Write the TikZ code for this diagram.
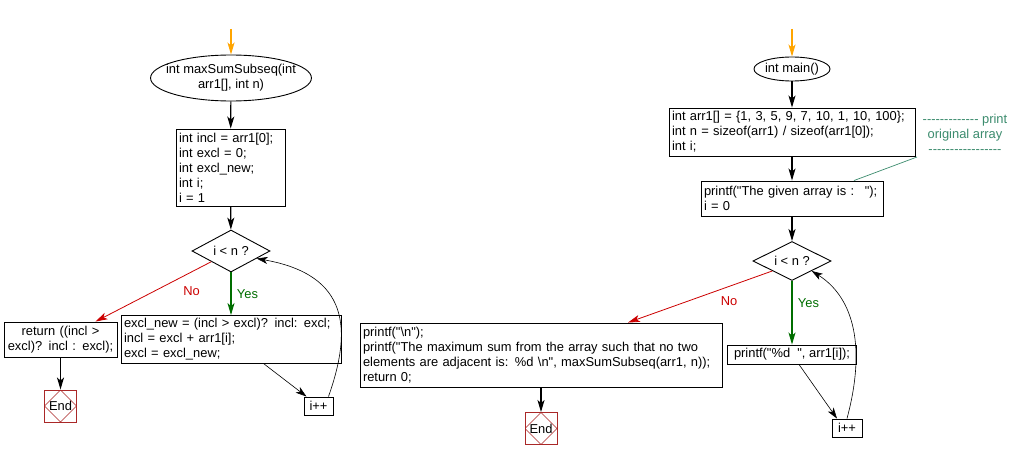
\documentclass[tikz,border=0pt]{standalone}
\usepackage{fontspec}
\setmainfont{Liberation Sans}[Ligatures=TeXOff]
\usetikzlibrary{shapes.geometric,arrows.meta,calc}
\definecolor{startorange}{RGB}{255,165,0}
\definecolor{nored}{RGB}{204,0,0}
\definecolor{yesgreen}{RGB}{0,110,0}
\definecolor{endred}{RGB}{170,40,40}
\definecolor{notegreen}{RGB}{60,140,110}
\newcommand{\dashes}[1]{\foreach \k in {1,...,#1}{-}}

\begin{document}
\begin{tikzpicture}[x=1pt, y=-1pt, font=\fontsize{12.9}{15}\selectfont]
\tikzstyle{block} = [rectangle, draw=black, line width=0.9pt, inner sep=3pt, align=left]
\tikzstyle{terminal} = [ellipse, draw=black, line width=0.9pt, inner sep=0pt, align=center]
\tikzstyle{decision} = [diamond, draw=black, line width=0.9pt, aspect=2, inner sep=0pt, minimum width=78pt, minimum height=42pt]
\tikzstyle{stop} = [rectangle, draw=endred, line width=0.9pt, minimum size=32pt, inner sep=0pt,
  path picture={\draw[endred, line width=0.6pt] (path picture bounding box.north) -- (path picture bounding box.east)
  -- (path picture bounding box.south) -- (path picture bounding box.west) -- cycle;}]
\tikzstyle{arrow} = [line width=1.2pt, -{Stealth[length=12pt, width=7pt, inset=3pt]}]
\tikzstyle{thinarrow} = [line width=0.6pt, -{Stealth[length=11pt, width=7pt, inset=3pt]}]
\tikzstyle{startarrow} = [arrow, draw=startorange]
\tikzstyle{yesarrow} = [arrow, draw=yesgreen]
\tikzstyle{noarrow} = [line width=0.8pt, draw=nored, -{Stealth[length=12pt, width=7pt, inset=3pt]}]

\fill[white] (0,0) rectangle (1013,460);
\useasboundingbox (0,0) rectangle (1013,460);

% maxSumSubseq
\coordinate (in1) at (231,29);
\node (ell1) [terminal, inner xsep=-8pt, minimum width=155pt, minimum height=46pt] at (231,78) {int maxSumSubseq(int\\arr1[], int n)};
\node (box1) [block, minimum width=109pt, minimum height=77pt, text width=103pt] at (230.5,167.5) {int incl = arr1[0];\\int excl = 0;\\int excl\_new;\\int i;\\i = 1};
\node (dia1) [decision] at (231,251) {i < n ?};
\node (box2) [block, minimum width=220pt, minimum height=47pt, text width=214pt] at (231,339.5) {excl\_new = (incl > excl)? incl: excl;\\incl = excl + arr1[i];\\excl = excl\_new;};
\node (box3) [block, align=center, minimum width=113pt, minimum height=35pt, text width=109pt, inner sep=2pt] at (60.5,339.5) {return ((incl >\\excl)? incl : excl);};
\node (end1) [stop] at (60.5,406) {End};
\node (inc1) [block, align=center, minimum width=29pt, minimum height=18pt, inner sep=1pt] at (318.5,406) {i++};

\draw [startarrow] (in1) -- (ell1);
\draw [arrow] (ell1) -- (box1);
\draw [arrow] (box1) -- (dia1);
\draw [yesarrow] (dia1) -- node[right, text=yesgreen, xshift=2pt] {Yes} (box2);
\draw [noarrow] (dia1.south west) -- node[pos=0.3, anchor=north west, text=nored, xshift=3pt, yshift=-3pt] {No} ([xshift=35pt]box3.north);
\draw [arrow] (box3) -- (end1);
\draw [thinarrow] ([xshift=33pt]box2.south) -- ([xshift=-12pt]inc1.north);
\draw [thinarrow] ([xshift=10pt]inc1.north) .. controls (352,330) and (350,275) .. ($(dia1.east)!0.35!(dia1.south)$);

% main
\coordinate (in2) at (792,29);
\node (ell2) [terminal, minimum width=71pt, minimum height=24pt] at (792,69) {int main()};
\node (box4) [block, minimum width=246pt, minimum height=48pt, text width=240pt] at (792,132) {int arr1[] = \{1, 3, 5, 9, 7, 10, 1, 10, 100\};\\int n = sizeof(arr1) / sizeof(arr1[0]);\\int i;};
\node (box5) [block, minimum width=182pt, minimum height=35pt, text width=176pt] at (792,198.5) {printf("The given array is :~ ");\\i = 0};
\node (note) [text=notegreen, align=center, inner sep=0pt] at (965,134) {\dashes{13} print\\original array\\\dashes{17}};
\coordinate (notetail) at (917,157);
\node (dia2) [decision, minimum height=39pt] at (792,261) {i < n ?};
\node (box6) [block, align=center, minimum width=129pt, minimum height=19pt, inner sep=1pt] at (792,354.5) {printf("\%d~ ", arr1[i]);};
\node (box7) [block, minimum width=362pt, minimum height=64pt, text width=356pt] at (541,355) {printf("\textbackslash n");\\printf("The maximum sum from the array such that no two\\elements are adjacent is: \%d \textbackslash n", maxSumSubseq(arr1, n));\\return 0;};
\node (end2) [stop] at (541,428.5) {End};
\node (inc2) [block, align=center, minimum width=30pt, minimum height=18pt, inner sep=1pt] at (847,428) {i++};

\draw [startarrow] (in2) -- (ell2);
\draw [arrow] (ell2) -- (box4);
\draw [arrow] (box4) -- (box5);
\draw [arrow] (box5) -- (dia2);
\draw [notegreen, line width=0.7pt] (notetail) -- ([xshift=62pt]box5.north);
\draw [yesarrow] (dia2) -- node[pos=0.35, right, text=yesgreen, xshift=2pt] {Yes} (box6);
\draw [noarrow] (dia2.south west) -- node[pos=0.3, anchor=north, text=nored, yshift=-6pt] {No} ([xshift=87pt]box7.north);
\draw [arrow] (box7) -- (end2);
\draw [thinarrow] ([xshift=7pt]box6.south) -- ([xshift=-10pt]inc2.north);
\draw [thinarrow] (inc2.north) .. controls (868,340) and (850,295) .. (dia2.south east);
\end{tikzpicture}
\end{document}
